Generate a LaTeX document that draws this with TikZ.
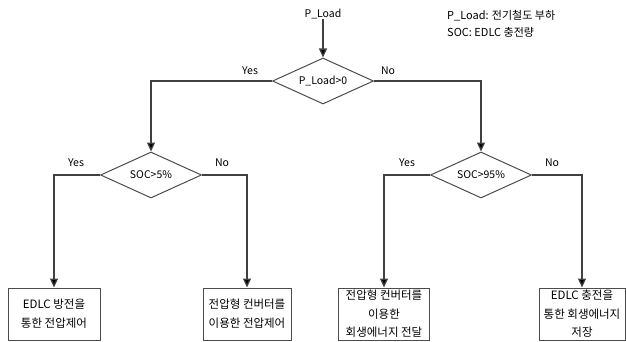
\documentclass[tikz,border=0pt]{standalone}
\usepackage{fontspec}
\setmainfont{Noto Sans CJK KR}
\usetikzlibrary{shapes.geometric,arrows.meta}
\tikzset{cond/.style={diamond,draw=black!70,line width=1pt,inner sep=0pt,minimum width=101pt,minimum height=46pt,aspect=2.2},
act/.style={rectangle,draw=black!70,line width=1pt,align=center,inner sep=0pt,minimum height=52pt},
arr/.style={draw=black!75,line width=1.3pt,-{Triangle[length=9pt,width=8pt,fill=black]}},
lbl/.style={inner sep=0pt}}

\begin{document}
\begin{tikzpicture}[x=1pt,y=-1pt,font=\fontsize{10.5}{18}\selectfont]
\useasboundingbox (0,0) rectangle (626,342);
\node[lbl] (load) at (323,14) {P\_Load};
\node[lbl,anchor=west,align=left,font=\fontsize{11}{17.5}\selectfont] (legend) at (447,24) {P\_Load: 전기철도 부하\\SOC: EDLC 충전량};
\node[cond] (d1) at (323,81) {P\_Load>0};
\node[cond] (d2) at (151,175) {SOC>5\%};
\node[cond] (d3) at (481,175) {SOC>95\%};
\node[act,minimum width=92pt,font=\fontsize{11.5}{19}\selectfont] (b1) at (54,314) {EDLC 방전을\\통한 전압제어};
\node[act,minimum width=88pt,font=\fontsize{11.5}{19}\selectfont] (b2) at (247,314) {전압형 컨버터를\\이용한 전압제어};
\node[act,minimum width=91pt,font=\fontsize{11.5}{18.5}\selectfont] (b3) at (384,314) {전압형 컨버터를\\이용한\\회생에너지 전달};
\node[act,minimum width=86pt,font=\fontsize{11.5}{18.5}\selectfont] (b4) at (582,314) {EDLC 충전을\\통한 회생에너지\\저장};
\draw[arr] (load) -- (d1.north);
\draw[arr] (d1.west) -| (d2.north);
\draw[arr] (d1.east) -| (d3.north);
\draw[arr] (d2.west) -| (b1.north);
\draw[arr] (d2.east) -| (b2.north);
\draw[arr] (d3.west) -| (b3.north);
\draw[arr] (d3.east) -| (b4.north);
\node[lbl] (y1) at (250,71) {Yes};
\node[lbl] (n1) at (388,71) {No};
\node[lbl] (y2) at (76,163) {Yes};
\node[lbl] (n2) at (222,163) {No};
\node[lbl] (y3) at (407,163) {Yes};
\node[lbl] (n3) at (552,163) {No};
\end{tikzpicture}
\end{document}
